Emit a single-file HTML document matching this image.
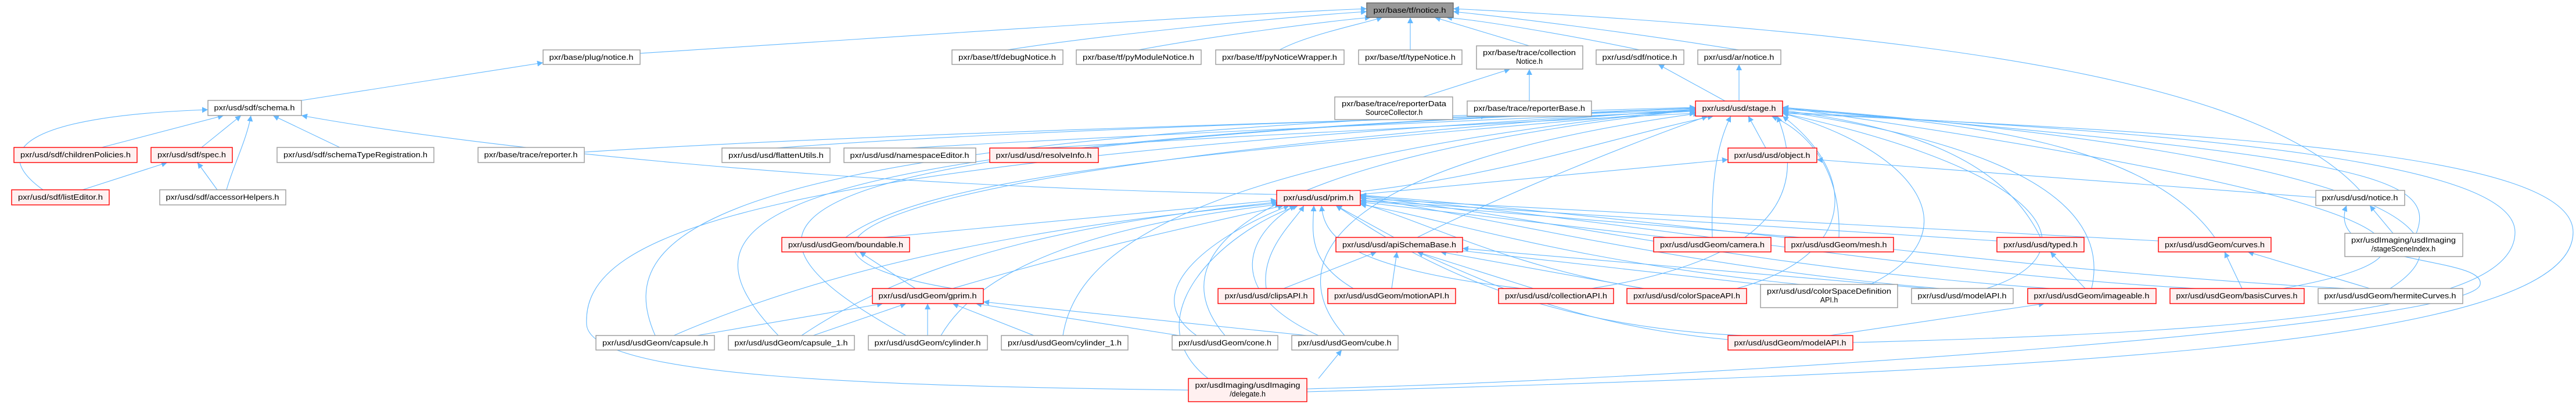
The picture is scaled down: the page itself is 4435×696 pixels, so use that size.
<!DOCTYPE html>
<html><head><meta charset="utf-8"><style>
html,body{margin:0;padding:0;background:#fff;}
svg{display:block;}
text{font-family:"Liberation Sans",sans-serif;font-size:12.5px;fill:#000;}
.e{fill:none;stroke:#63b8ff;stroke-width:1.1;marker-end:url(#a);}
.g{fill:#fff;stroke:#999;stroke-width:1.4;}
.r{fill:#fff0f0;stroke:#f00;stroke-width:1.4;}
.k{fill:#999;stroke:#666;stroke-width:1.4;}
</style></head><body>
<svg width="4435" height="696" viewBox="0 0 4435 696" xmlns="http://www.w3.org/2000/svg">
<defs><marker id="a" viewBox="0 0 10 10" refX="10" refY="5" markerWidth="10" markerHeight="10" markerUnits="userSpaceOnUse" orient="auto"><path d="M0,0 L10,5 L0,10 z" fill="#63b8ff"/></marker></defs>
<g>
<path class="e" d="M1100,92 C1600,60 2100,25 2353,15"/>
<path class="e" d="M1734,86 C1900,60 2200,30 2353,20"/>
<path class="e" d="M1960,86 C2100,60 2300,35 2360,30"/>
<path class="e" d="M2203,86 C2250,60 2350,40 2380,30"/>
<path class="e" d="M2428,86 L2428,30"/>
<path class="e" d="M2633,79 L2470,30"/>
<path class="e" d="M2823,86 C2700,60 2550,35 2490,30"/>
<path class="e" d="M2994,86 C2800,55 2600,30 2502,20"/>
<path class="e" d="M4063,328 C3900,150 3400,60 2502,15"/>
<path class="e" d="M519,173 L935,108"/>
<path class="e" d="M175,254 L385,199"/>
<path class="e" d="M347,254 L415,199"/>
<path class="e" d="M390,327 C400,290 425,240 432,199"/>
<path class="e" d="M585,254 L470,199"/>
<path class="e" d="M74,327 C-20,260 40,200 358,189"/>
<path class="e" d="M2198,335 C1400,320 800,250 519,199"/>
<path class="e" d="M142,327 L288,280"/>
<path class="e" d="M374,327 L340,280"/>
<path class="e" d="M2450,167 L2600,119"/>
<path class="e" d="M2633,174 L2633,119"/>
<path class="e" d="M1006,262 C1500,230 2300,210 2560,200"/>
<path class="e" d="M2970,174 L2855,111"/>
<path class="e" d="M2994,174 L2994,111"/>
<path class="e" d="M1336,255 C1800,220 2600,200 2919,190"/>
<path class="e" d="M1566,255 C2000,230 2700,200 2919,192"/>
<path class="e" d="M1797,255 C2200,230 2700,205 2919,195"/>
<path class="e" d="M3040,255 L3010,200"/>
<path class="e" d="M2948,409 C2945,300 2960,240 2980,200"/>
<path class="e" d="M3166,409 C3170,300 3120,230 3050,200"/>
<path class="e" d="M3513,409 C3450,280 3300,220 3069,190"/>
<path class="e" d="M3601,497 C3640,330 3400,240 3069,192"/>
<path class="e" d="M3813,409 C3700,250 3400,210 3069,188"/>
<path class="e" d="M4160,402 C4200,300 4050,270 3069,186"/>
<path class="e" d="M4115,497 C4300,380 4000,260 3069,185"/>
<path class="e" d="M3930,497 C4250,440 4220,350 3069,185"/>
<path class="e" d="M3420,497 C3600,440 3550,300 3069,195"/>
<path class="e" d="M3220,490 C3400,400 3300,260 3069,195"/>
<path class="e" d="M2990,497 C3200,440 3200,300 3069,200"/>
<path class="e" d="M2740,497 C3100,440 3100,300 3060,200"/>
<path class="e" d="M1128,578 C1050,400 1200,230 2919,185"/>
<path class="e" d="M1340,578 C1150,380 1250,250 2919,186"/>
<path class="e" d="M1560,578 C1200,380 1250,250 2919,187"/>
<path class="e" d="M1830,578 C1850,450 2000,280 2919,188"/>
<path class="e" d="M2109,578 C2000,450 2100,280 2919,189"/>
<path class="e" d="M2315,578 C2200,450 2300,280 2925,195"/>
<path class="e" d="M1456,409 C1600,300 2100,260 2919,190"/>
<path class="e" d="M1640,497 C1300,440 1350,300 2919,188"/>
<path class="e" d="M2440,409 C2600,330 2800,250 2940,200"/>
<path class="e" d="M2342,330 C2600,300 2800,230 2950,200"/>
<path class="e" d="M2046,672 C1500,665 1020,650 1010,560 C1000,400 1300,280 2919,190"/>
<path class="e" d="M2250,675 C3500,640 4430,600 4430,400 C4430,260 3800,230 3069,195"/>
<path class="e" d="M3190,590 C4000,570 4330,520 4330,400 C4330,280 3800,230 3069,193"/>
<path class="e" d="M2342,335 L2975,275"/>
<path class="e" d="M3987,340 L3128,275"/>
<path class="e" d="M2400,409 L2300,354"/>
<path class="e" d="M2180,497 C2170,430 2230,380 2245,354"/>
<path class="e" d="M2330,497 C2250,450 2260,400 2262,354"/>
<path class="e" d="M2620,497 C2300,460 2280,400 2275,354"/>
<path class="e" d="M3438,415 L2342,345"/>
<path class="e" d="M2870,409 L2342,348"/>
<path class="e" d="M3100,409 L2342,346"/>
<path class="e" d="M3716,415 L2342,342"/>
<path class="e" d="M1520,409 L2198,345"/>
<path class="e" d="M1640,497 C1900,420 2100,380 2210,354"/>
<path class="e" d="M1160,578 C1500,430 1900,380 2200,350"/>
<path class="e" d="M1380,578 C1600,430 1900,380 2200,348"/>
<path class="e" d="M1620,578 C1700,440 1950,380 2205,352"/>
<path class="e" d="M2060,578 C1950,500 2100,400 2220,354"/>
<path class="e" d="M2270,578 C2100,500 2150,400 2230,354"/>
<path class="e" d="M2080,652 C1950,550 2100,400 2235,354"/>
<path class="e" d="M2830,497 C2600,460 2450,380 2342,350"/>
<path class="e" d="M3100,490 C2700,450 2500,380 2342,352"/>
<path class="e" d="M3340,497 C2900,460 2600,380 2342,340"/>
<path class="e" d="M3530,497 C3000,460 2700,380 2342,338"/>
<path class="e" d="M3000,578 C2600,560 2400,420 2300,354"/>
<path class="e" d="M4040,497 C3500,470 2900,380 2342,336"/>
<path class="e" d="M3780,497 C3300,470 2800,380 2342,337"/>
<path class="e" d="M2210,497 L2370,434"/>
<path class="e" d="M2396,497 L2405,434"/>
<path class="e" d="M2640,497 L2440,434"/>
<path class="e" d="M2830,497 L2480,434"/>
<path class="e" d="M3050,492 L2500,430"/>
<path class="e" d="M3320,497 L2518,428"/>
<path class="e" d="M2975,585 C2700,560 2550,480 2440,434"/>
<path class="e" d="M1576,497 L1480,434"/>
<path class="e" d="M1200,578 L1520,523"/>
<path class="e" d="M1400,578 L1560,523"/>
<path class="e" d="M1597,578 L1597,523"/>
<path class="e" d="M1780,578 L1640,523"/>
<path class="e" d="M2030,578 L1680,523"/>
<path class="e" d="M2250,578 L1693,520"/>
<path class="e" d="M3590,497 L3530,434"/>
<path class="e" d="M3150,578 L3520,523"/>
<path class="e" d="M3860,497 L3830,434"/>
<path class="e" d="M4080,497 L3870,434"/>
<path class="e" d="M4120,402 L4080,354"/>
<path class="e" d="M2250,670 C3000,650 4260,560 4270,490 C4280,440 4000,460 4040,354"/>
<path class="e" d="M2270,652 L2310,603"/>
</g>
<g>
<rect class="k" x="2353" y="5" width="149" height="25"/><text x="2427" y="22" text-anchor="middle" textLength="125" lengthAdjust="spacingAndGlyphs">pxr/base/tf/notice.h</text>
<rect class="g" x="935" y="86" width="167" height="25"/><text x="1018" y="103" text-anchor="middle" textLength="145" lengthAdjust="spacingAndGlyphs">pxr/base/plug/notice.h</text>
<rect class="g" x="1639" y="86" width="191" height="25"/><text x="1734" y="103" text-anchor="middle" textLength="168" lengthAdjust="spacingAndGlyphs">pxr/base/tf/debugNotice.h</text>
<rect class="g" x="1853" y="86" width="215" height="25"/><text x="1960" y="103" text-anchor="middle" textLength="192" lengthAdjust="spacingAndGlyphs">pxr/base/tf/pyModuleNotice.h</text>
<rect class="g" x="2093" y="86" width="221" height="25"/><text x="2203" y="103" text-anchor="middle" textLength="198" lengthAdjust="spacingAndGlyphs">pxr/base/tf/pyNoticeWrapper.h</text>
<rect class="g" x="2339" y="86" width="178" height="25"/><text x="2428" y="103" text-anchor="middle" textLength="156" lengthAdjust="spacingAndGlyphs">pxr/base/tf/typeNotice.h</text>
<rect class="g" x="2542" y="79" width="183" height="40"/><text x="2633" y="95" text-anchor="middle" textLength="160" lengthAdjust="spacingAndGlyphs">pxr/base/trace/collection</text><text x="2633" y="110" text-anchor="middle">Notice.h</text>
<rect class="g" x="2748" y="86" width="151" height="25"/><text x="2823" y="103" text-anchor="middle" textLength="129" lengthAdjust="spacingAndGlyphs">pxr/usd/sdf/notice.h</text>
<rect class="g" x="2923" y="86" width="143" height="25"/><text x="2994" y="103" text-anchor="middle" textLength="121" lengthAdjust="spacingAndGlyphs">pxr/usd/ar/notice.h</text>
<rect class="g" x="358" y="173" width="161" height="26"/><text x="438" y="190" text-anchor="middle" textLength="139" lengthAdjust="spacingAndGlyphs">pxr/usd/sdf/schema.h</text>
<rect class="g" x="2298" y="167" width="203" height="39"/><text x="2400" y="183" text-anchor="middle" textLength="180" lengthAdjust="spacingAndGlyphs">pxr/base/trace/reporterData</text><text x="2400" y="198" text-anchor="middle">SourceCollector.h</text>
<rect class="g" x="2526" y="174" width="214" height="26"/><text x="2633" y="191" text-anchor="middle" textLength="192" lengthAdjust="spacingAndGlyphs">pxr/base/trace/reporterBase.h</text>
<rect class="r" x="2919" y="174" width="150" height="26"/><text x="2994" y="191" text-anchor="middle" textLength="127" lengthAdjust="spacingAndGlyphs">pxr/usd/usd/stage.h</text>
<rect class="r" x="24" y="254" width="212" height="26"/><text x="130" y="271" text-anchor="middle" textLength="190" lengthAdjust="spacingAndGlyphs">pxr/usd/sdf/childrenPolicies.h</text>
<rect class="r" x="260" y="254" width="140" height="26"/><text x="330" y="271" text-anchor="middle" textLength="118" lengthAdjust="spacingAndGlyphs">pxr/usd/sdf/spec.h</text>
<rect class="g" x="477" y="254" width="270" height="26"/><text x="612" y="271" text-anchor="middle" textLength="248" lengthAdjust="spacingAndGlyphs">pxr/usd/sdf/schemaTypeRegistration.h</text>
<rect class="g" x="823" y="254" width="183" height="26"/><text x="914" y="271" text-anchor="middle" textLength="161" lengthAdjust="spacingAndGlyphs">pxr/base/trace/reporter.h</text>
<rect class="g" x="1243" y="255" width="186" height="25"/><text x="1336" y="272" text-anchor="middle" textLength="164" lengthAdjust="spacingAndGlyphs">pxr/usd/usd/flattenUtils.h</text>
<rect class="g" x="1453" y="255" width="227" height="25"/><text x="1566" y="272" text-anchor="middle" textLength="205" lengthAdjust="spacingAndGlyphs">pxr/usd/usd/namespaceEditor.h</text>
<rect class="r" x="1704" y="255" width="187" height="25"/><text x="1797" y="272" text-anchor="middle" textLength="165" lengthAdjust="spacingAndGlyphs">pxr/usd/usd/resolveInfo.h</text>
<rect class="r" x="2975" y="255" width="153" height="25"/><text x="3051" y="272" text-anchor="middle" textLength="131" lengthAdjust="spacingAndGlyphs">pxr/usd/usd/object.h</text>
<rect class="r" x="20" y="327" width="168" height="26"/><text x="104" y="344" text-anchor="middle" textLength="146" lengthAdjust="spacingAndGlyphs">pxr/usd/sdf/listEditor.h</text>
<rect class="g" x="275" y="327" width="217" height="26"/><text x="383" y="344" text-anchor="middle" textLength="195" lengthAdjust="spacingAndGlyphs">pxr/usd/sdf/accessorHelpers.h</text>
<rect class="r" x="2198" y="328" width="144" height="26"/><text x="2270" y="345" text-anchor="middle" textLength="121" lengthAdjust="spacingAndGlyphs">pxr/usd/usd/prim.h</text>
<rect class="g" x="3987" y="328" width="153" height="26"/><text x="4063" y="345" text-anchor="middle" textLength="131" lengthAdjust="spacingAndGlyphs">pxr/usd/usd/notice.h</text>
<rect class="r" x="1346" y="409" width="220" height="25"/><text x="1456" y="426" text-anchor="middle" textLength="198" lengthAdjust="spacingAndGlyphs">pxr/usd/usdGeom/boundable.h</text>
<rect class="r" x="2300" y="409" width="218" height="25"/><text x="2409" y="426" text-anchor="middle" textLength="196" lengthAdjust="spacingAndGlyphs">pxr/usd/usd/apiSchemaBase.h</text>
<rect class="r" x="2847" y="409" width="202" height="25"/><text x="2948" y="426" text-anchor="middle" textLength="180" lengthAdjust="spacingAndGlyphs">pxr/usd/usdGeom/camera.h</text>
<rect class="r" x="3073" y="409" width="187" height="25"/><text x="3166" y="426" text-anchor="middle" textLength="165" lengthAdjust="spacingAndGlyphs">pxr/usd/usdGeom/mesh.h</text>
<rect class="r" x="3438" y="409" width="150" height="25"/><text x="3513" y="426" text-anchor="middle" textLength="128" lengthAdjust="spacingAndGlyphs">pxr/usd/usd/typed.h</text>
<rect class="r" x="3716" y="409" width="194" height="25"/><text x="3813" y="426" text-anchor="middle" textLength="172" lengthAdjust="spacingAndGlyphs">pxr/usd/usdGeom/curves.h</text>
<rect class="g" x="4037" y="402" width="203" height="40"/><text x="4138" y="418" text-anchor="middle" textLength="180" lengthAdjust="spacingAndGlyphs">pxr/usdImaging/usdImaging</text><text x="4138" y="433" text-anchor="middle">/stageSceneIndex.h</text>
<rect class="r" x="1502" y="497" width="191" height="26"/><text x="1597" y="514" text-anchor="middle" textLength="169" lengthAdjust="spacingAndGlyphs">pxr/usd/usdGeom/gprim.h</text>
<rect class="r" x="2097" y="497" width="165" height="26"/><text x="2180" y="514" text-anchor="middle" textLength="143" lengthAdjust="spacingAndGlyphs">pxr/usd/usd/clipsAPI.h</text>
<rect class="r" x="2286" y="497" width="220" height="26"/><text x="2396" y="514" text-anchor="middle" textLength="198" lengthAdjust="spacingAndGlyphs">pxr/usd/usdGeom/motionAPI.h</text>
<rect class="r" x="2580" y="497" width="198" height="26"/><text x="2679" y="514" text-anchor="middle" textLength="176" lengthAdjust="spacingAndGlyphs">pxr/usd/usd/collectionAPI.h</text>
<rect class="r" x="2801" y="497" width="206" height="26"/><text x="2904" y="514" text-anchor="middle" textLength="184" lengthAdjust="spacingAndGlyphs">pxr/usd/usd/colorSpaceAPI.h</text>
<rect class="g" x="3031" y="490" width="236" height="40"/><text x="3149" y="506" text-anchor="middle" textLength="214" lengthAdjust="spacingAndGlyphs">pxr/usd/usd/colorSpaceDefinition</text><text x="3149" y="521" text-anchor="middle">API.h</text>
<rect class="g" x="3291" y="497" width="175" height="26"/><text x="3378" y="514" text-anchor="middle" textLength="153" lengthAdjust="spacingAndGlyphs">pxr/usd/usd/modelAPI.h</text>
<rect class="r" x="3491" y="497" width="221" height="26"/><text x="3601" y="514" text-anchor="middle" textLength="199" lengthAdjust="spacingAndGlyphs">pxr/usd/usdGeom/imageable.h</text>
<rect class="r" x="3736" y="497" width="231" height="26"/><text x="3851" y="514" text-anchor="middle" textLength="209" lengthAdjust="spacingAndGlyphs">pxr/usd/usdGeom/basisCurves.h</text>
<rect class="g" x="3991" y="497" width="249" height="26"/><text x="4115" y="514" text-anchor="middle" textLength="227" lengthAdjust="spacingAndGlyphs">pxr/usd/usdGeom/hermiteCurves.h</text>
<rect class="g" x="1026" y="578" width="204" height="25"/><text x="1128" y="595" text-anchor="middle" textLength="182" lengthAdjust="spacingAndGlyphs">pxr/usd/usdGeom/capsule.h</text>
<rect class="g" x="1254" y="578" width="217" height="25"/><text x="1362" y="595" text-anchor="middle" textLength="195" lengthAdjust="spacingAndGlyphs">pxr/usd/usdGeom/capsule_1.h</text>
<rect class="g" x="1495" y="578" width="205" height="25"/><text x="1597" y="595" text-anchor="middle" textLength="183" lengthAdjust="spacingAndGlyphs">pxr/usd/usdGeom/cylinder.h</text>
<rect class="g" x="1724" y="578" width="218" height="25"/><text x="1833" y="595" text-anchor="middle" textLength="196" lengthAdjust="spacingAndGlyphs">pxr/usd/usdGeom/cylinder_1.h</text>
<rect class="g" x="2018" y="578" width="182" height="25"/><text x="2109" y="595" text-anchor="middle" textLength="160" lengthAdjust="spacingAndGlyphs">pxr/usd/usdGeom/cone.h</text>
<rect class="g" x="2224" y="578" width="183" height="25"/><text x="2315" y="595" text-anchor="middle" textLength="161" lengthAdjust="spacingAndGlyphs">pxr/usd/usdGeom/cube.h</text>
<rect class="r" x="2975" y="578" width="215" height="25"/><text x="3082" y="595" text-anchor="middle" textLength="193" lengthAdjust="spacingAndGlyphs">pxr/usd/usdGeom/modelAPI.h</text>
<rect class="r" x="2046" y="652" width="204" height="40"/><text x="2148" y="668" text-anchor="middle" textLength="181" lengthAdjust="spacingAndGlyphs">pxr/usdImaging/usdImaging</text><text x="2148" y="683" text-anchor="middle">/delegate.h</text>
</g>
</svg>
</body></html>
